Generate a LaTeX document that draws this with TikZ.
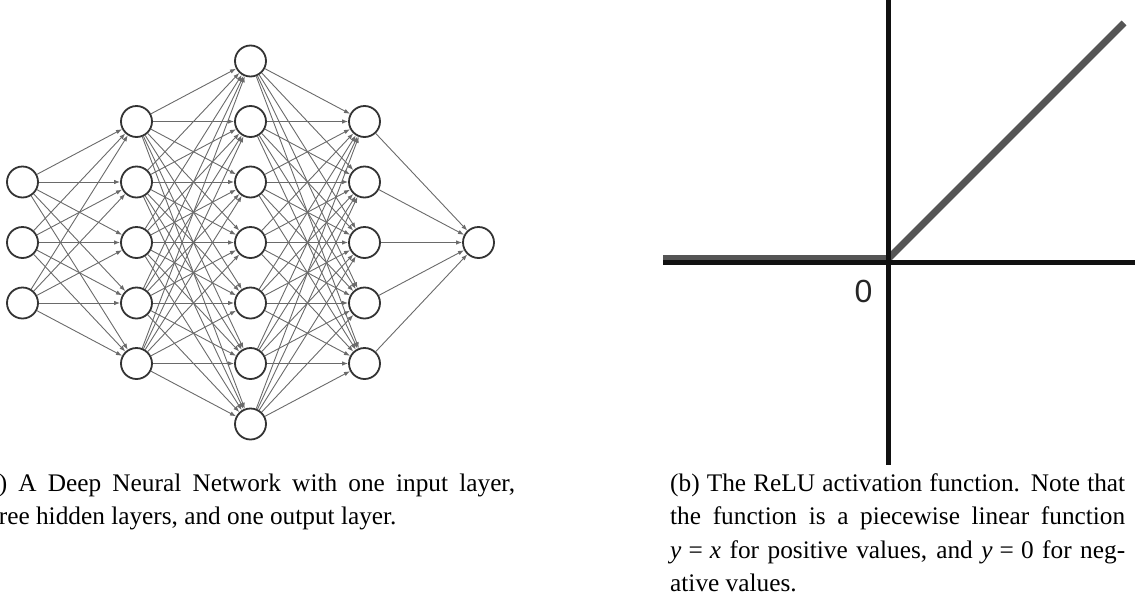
\documentclass[tikz,border=0pt]{standalone}
\usepackage{fontspec}
\setmainfont{Liberation Serif}
\newfontfamily\axisfont{Liberation Sans}
\usetikzlibrary{arrows.meta}
\definecolor{nodeedge}{HTML}{333333}
\definecolor{synapsegray}{HTML}{6A6A6A}
\definecolor{relugray}{HTML}{555555}
\definecolor{axisblack}{HTML}{111111}
\tikzset{
  neuron/.style={circle, draw=nodeedge, line width=1.8pt, fill=white,
    minimum size=31pt, inner sep=0pt},
  synapse/.style={draw=synapsegray, line width=0.9pt,
    -{Latex[length=6pt,width=4.5pt]}},
  axisline/.style={draw=axisblack, line width=5.5pt},
  relu/.style={draw=relugray, line width=7pt},
  captionline/.style={anchor=base west, inner sep=0pt,
    font=\fontsize{25.3}{33}\selectfont},
  zerolabel/.style={inner sep=0pt, text=black!85,
    font=\axisfont\fontsize{32}{32}\selectfont}
}
\newcommand{\lefthline}[1]{\makebox[536pt][s]{#1}}
\newcommand{\righthline}[1]{\makebox[455pt][s]{#1}}
\newcommand{\mth}[1]{\textit{#1}}
\newcommand{\eqsign}{\hspace{0.28em}=\hspace{0.28em}}
\begin{document}
\begin{tikzpicture}[x=1pt,y=-1pt]
\useasboundingbox (0,0) rectangle (1135,600);
\begin{scope}
\clip (0,0) rectangle (1135,600);

% --- network: input, three hidden layers, output ---
\foreach \l/\x/\n in {1/22.5/3, 2/136.5/5, 3/250.5/7, 4/364.5/5, 5/478.5/1} {
  \foreach \k in {1,...,\n} {
    \node[neuron] (n\l-\k) at (\x, {242.5 + (\k - (\n+1)/2)*60.5}) {};
  }
}
\foreach \l/\n/\m in {1/3/5, 2/5/7, 3/7/5, 4/5/1} {
  \pgfmathtruncatemacro\nl{\l+1}
  \foreach \a in {1,...,\n} {
    \foreach \b in {1,...,\m} {
      \draw[synapse] (n\l-\a) -- (n\nl-\b);
    }
  }
}

% --- ReLU plot ---
\coordinate (west) at (663, 258.5);
\coordinate (origin) at (888.5, 258.5);
\coordinate (tip) at (1124, 23);
\draw[relu] (west) -- (origin) -- (tip);
\coordinate (xl) at (663, 262.3);
\coordinate (xr) at (1135, 262.3);
\coordinate (ytop) at (888.5, 0);
\coordinate (ybot) at (888.5, 465);
\draw[axisline] (xl) -- (xr);
\draw[axisline] (ytop) -- (ybot);
\node[zerolabel] (zero) at (863.5, 291.5) {0};

% --- captions ---
\node[captionline] (capa1) at (-21, 491)
  {\lefthline{(a) A Deep Neural Network with one input layer,}};
\node[captionline] (capa2) at (-21, 524.5)
  {three hidden layers, and one output layer.};

\node[captionline] (capb1) at (670, 491)
  {\righthline{(b) The ReLU activation function. Note that}};
\node[captionline] (capb2) at (670, 524.5)
  {\righthline{the function is a piecewise linear function}};
\node[captionline] (capb3) at (670, 558)
  {\righthline{\mth{y}\eqsign\mth{x} for positive values, and \mth{y}\eqsign0 for neg-}};
\node[captionline] (capb4) at (670, 591.5)
  {ative values.};
\end{scope}
\end{tikzpicture}
\end{document}
